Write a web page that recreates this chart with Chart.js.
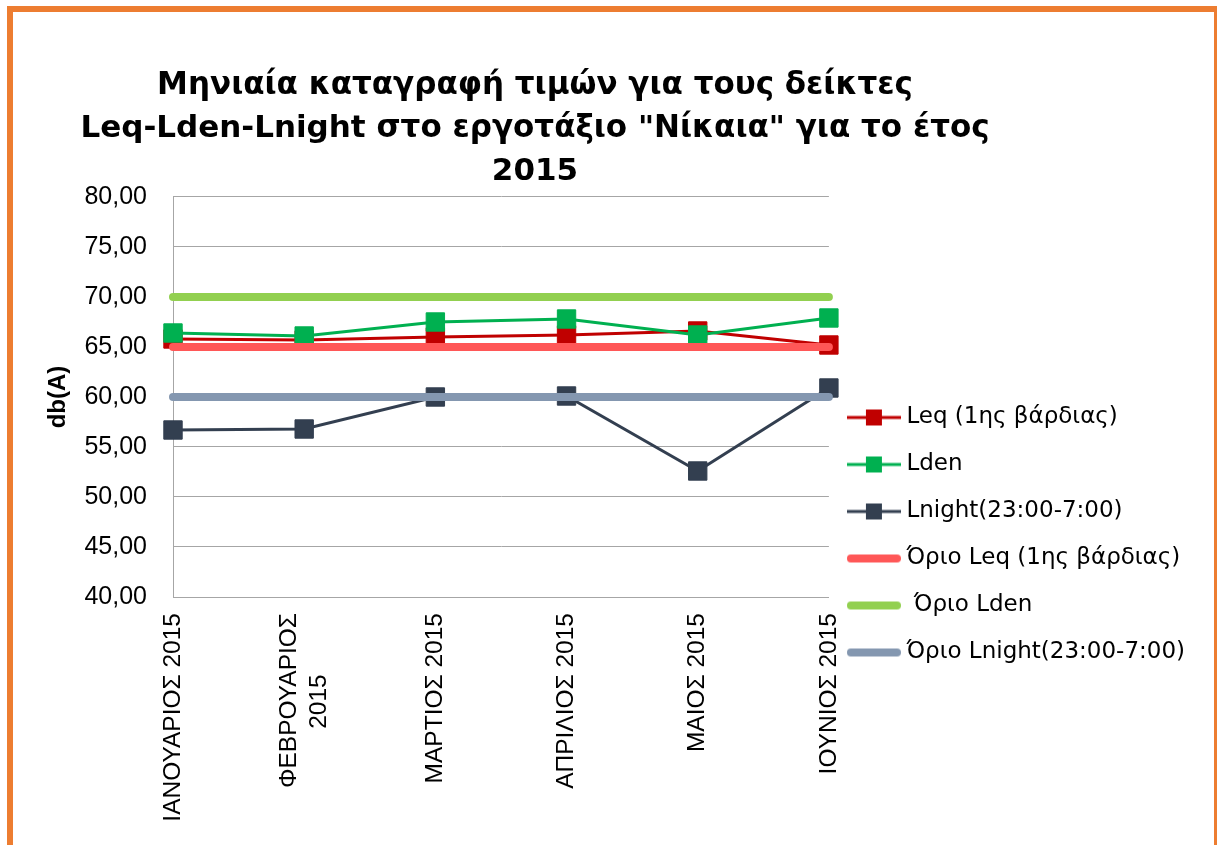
<!DOCTYPE html>
<html>
<head>
<meta charset="utf-8">
<script src="https://cdn.jsdelivr.net/npm/chart.js@4/dist/chart.umd.min.js"></script>
<style>
  html, body { margin: 0; padding: 0; background: #ffffff; width: 1217px; height: 845px; overflow: hidden; }
  #frame { position: absolute; left: 7px; top: 6px; width: 1213px; height: 860px; box-sizing: border-box; border: 6px solid #ED7D31; }
  #wrap { position: absolute; left: 0; top: 0; width: 1217px; height: 845px; }
</style>
</head>
<body>
<div id="frame"></div>
<div id="wrap"><canvas id="c" width="1217" height="845"></canvas></div>
<script>
// ---- Data ----
const categories = ['ΙΑΝΟΥΑΡΙΟΣ 2015', ['ΦΕΒΡΟΥΑΡΙΟΣ', '2015'], 'ΜΑΡΤΙΟΣ 2015', 'ΑΠΡΙΛΙΟΣ 2015', 'ΜΑΙΟΣ 2015', 'ΙΟΥΝΙΟΣ 2015'];
const leqValues = [65.8, 65.7, 66.0, 66.2, 66.6, 65.2];
const ldenValues = [66.4, 66.1, 67.5, 67.8, 66.2, 67.9];
const lnightValues = [56.7, 56.8, 60.0, 60.1, 52.6, 60.9];
const limitLeq = [65, 65, 65, 65, 65, 65];
const limitLden = [70, 70, 70, 70, 70, 70];
const limitLnight = [60, 60, 60, 60, 60, 60];
const seriesLabels = ['Leq (1ης βάρδιας)', 'Lden', 'Lnight(23:00-7:00)', 'Όριο Leq (1ης βάρδιας)', ' Όριο Lden', 'Όριο Lnight(23:00-7:00)'];
const titleLines = ['Μηνιαία καταγραφή τιμών για τους δείκτες', 'Leq-Lden-Lnight στο εργοτάξιο "Νίκαια" για το έτος', '2015'];
const yAxisTitle = 'db(A)';
const yMin = 40, yMax = 80, yStep = 5;

// ---- Styles ----
function dataSeries(label, data, color, order) {
  return {
    label, data, order,
    borderColor: color, backgroundColor: color,
    borderWidth: 3,
    pointStyle: 'rect', pointRadius: 13, pointHoverRadius: 13,
    pointBackgroundColor: color, pointBorderColor: color, pointBorderWidth: 1,
    tension: 0, fill: false
  };
}
function limitSeries(label, data, color) {
  return {
    label, data, order: 1,
    borderColor: color, backgroundColor: color,
    borderWidth: 8, borderCapStyle: 'round',
    pointRadius: 0, pointHoverRadius: 0,
    tension: 0, fill: false
  };
}

function legendIcon(ds) {
  const cv = document.createElement('canvas');
  cv.width = 54; cv.height = 20;
  const g = cv.getContext('2d');
  g.strokeStyle = ds.borderColor;
  g.lineCap = ds.pointRadius > 0 ? 'butt' : 'round';
  g.lineWidth = ds.pointRadius > 0 ? 3 : 8;
  const pad = ds.pointRadius > 0 ? 0 : 4;
  g.beginPath(); g.moveTo(pad, 10); g.lineTo(54 - pad, 10); g.stroke();
  if (ds.pointRadius > 0) {
    g.fillStyle = ds.borderColor;
    g.fillRect(27 - 8, 10 - 8, 16, 16);
  }
  return cv;
}

const layoutTweaks = {
  id: 'layoutTweaks',
  afterLayout(chart) {
    const t = chart.titleBlock;
    if (t) { const c = 535, w = 1040; t.left = c - w / 2; t.right = c + w / 2; t.width = w; }
    const lg = chart.legend;
    if (lg) { const shift = 535 - (lg.top + lg.bottom) / 2; lg.top += shift; lg.bottom += shift; }
  },
  beforeDraw(chart) {
    // centre multi-line rotated category labels on their tick (like the original)
    const sx = chart.scales.x;
    const lh = sx.options.ticks.font.size * 1.2;
    sx.getLabelItems().forEach(it => {
      if (Array.isArray(it.label) && !it._centred) {
        it.options.translation[0] -= lh * (it.label.length - 1) / 2;
        it._centred = true;
      }
    });
  }
};

new Chart(document.getElementById('c'), {
  type: 'line',
  data: {
    labels: categories,
    datasets: [
      dataSeries(seriesLabels[0], leqValues, '#C00000', 4),
      dataSeries(seriesLabels[1], ldenValues, '#00B050', 3),
      dataSeries(seriesLabels[2], lnightValues, '#333F50', 2),
      limitSeries(seriesLabels[3], limitLeq, '#FF5757'),
      limitSeries(seriesLabels[4], limitLden, '#92D050'),
      limitSeries(seriesLabels[5], limitLnight, '#8497B0')
    ]
  },
  options: {
    responsive: false,
    animation: false,
    layout: { padding: { left: 40, top: 55, right: 22, bottom: 25 } },
    plugins: {
      title: {
        display: true, text: titleLines, color: '#000',
        font: { family: 'DejaVu Sans', size: 31, weight: 'bold', lineHeight: 1.387 },
        padding: { top: 9, bottom: 4 }
      },
      legend: {
        position: 'right', align: 'center', maxWidth: 420,
        labels: {
          usePointStyle: true, pointStyleWidth: 42, padding: 24, color: '#000',
          font: { family: 'DejaVu Sans', size: 23 },
          generateLabels(chart) {
            return chart.data.datasets.map((ds, i) => ({
              text: ds.label, fillStyle: ds.borderColor, strokeStyle: ds.borderColor,
              lineWidth: 0, pointStyle: legendIcon(ds), hidden: !chart.isDatasetVisible(i),
              datasetIndex: i, fontColor: '#000'
            }));
          }
        }
      },
      tooltip: { enabled: false }
    },
    scales: {
      x: {
        offset: false,
        afterFit(scale) { scale.height = 223; },
        grid: { display: false, drawTicks: false },
        border: { display: true, color: '#A6A6A6', width: 1 },
        ticks: {
          autoSkip: false, minRotation: 90, maxRotation: 90, padding: 16, color: '#000',
          font: { family: 'Liberation Sans', size: 24.5 },
          callback(value) {
            const l = this.getLabelForValue(value);
            if (Array.isArray(l)) {
              return [l[0], l[1] + ' '.repeat(9)];
            }
            return l;
          }
        }
      },
      y: {
        min: yMin, max: yMax,
        afterFit(scale) { scale.width = 133; },
        grid: { color: '#A6A6A6', lineWidth: 1, drawTicks: false },
        border: { display: true, color: '#A6A6A6', width: 1 },
        title: {
          display: true, text: yAxisTitle, color: '#000',
          font: { family: 'Liberation Sans', size: 24, weight: 'bold' },
          padding: { top: 4, bottom: 10 }
        },
        ticks: {
          stepSize: yStep, padding: 26, color: '#000',
          font: { family: 'Liberation Sans', size: 25 },
          callback(v) { return Number(v).toFixed(2).replace('.', ','); }
        }
      }
    }
  },
  plugins: [layoutTweaks]
});
</script>
</body>
</html>
